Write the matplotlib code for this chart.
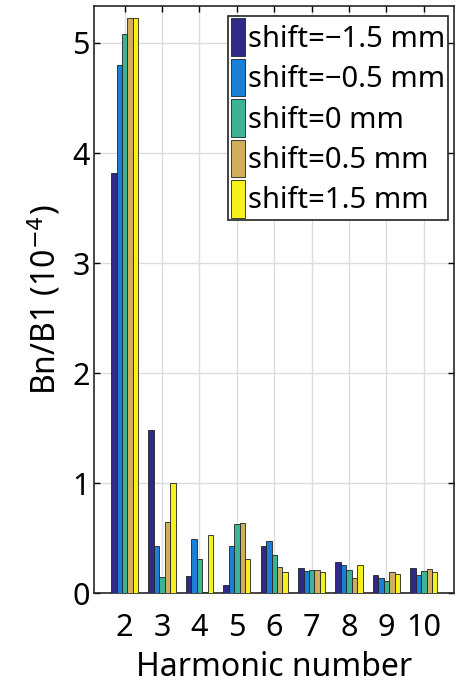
import numpy as np
import matplotlib.pyplot as plt

plt.rcParams['font.family'] = ['Noto Sans', 'DejaVu Sans']

# Harmonic order and normalised multipole content (units of 1e-4)
harmonics = [2, 3, 4, 5, 6, 7, 8, 9, 10]
labels = ['shift=\u22121.5 mm', 'shift=\u22120.5 mm', 'shift=0 mm',
          'shift=0.5 mm', 'shift=1.5 mm']
shift_m15 = [3.82, 1.48, 0.16, 0.075, 0.43, 0.23, 0.28, 0.165, 0.23]
shift_m05 = [4.80, 0.43, 0.49, 0.43, 0.47, 0.20, 0.26, 0.135, 0.165]
shift_0 = [5.08, 0.15, 0.31, 0.63, 0.345, 0.21, 0.21, 0.11, 0.20]
shift_p05 = [5.23, 0.65, 0.01, 0.64, 0.24, 0.21, 0.135, 0.195, 0.215]
shift_p15 = [5.23, 1.00, 0.53, 0.31, 0.19, 0.195, 0.26, 0.175, 0.195]
series = [shift_m15, shift_m05, shift_0, shift_p05, shift_p15]
colors = ['#2e2a86', '#1a7fd6', '#3cb394', '#d2ae5c', '#f6f01e']

fig = plt.figure(figsize=(4.66, 6.97), dpi=100)
ax = fig.add_axes([0.2017, 0.149, 0.772, 0.843])

x = np.array(harmonics, dtype=float)
w = 0.145
for i, (vals, c, lab) in enumerate(zip(series, colors, labels)):
    ax.bar(x + (i - 2) * w, vals, width=w, color=c, edgecolor='#222222',
           linewidth=0.6, label=lab, zorder=3)

ax.set_xlim(1.18, 10.8)
ax.set_ylim(0, 5.34)
ax.set_xticks(harmonics)
ax.set_yticks([0, 1, 2, 3, 4, 5])
ax.tick_params(direction='in', top=True, right=True, labelsize=22,
               length=4, width=1)
ax.tick_params(axis='x', pad=14)
ax.tick_params(axis='y', pad=3)
ax.grid(True, color='#dddddd', linewidth=1, zorder=0)
for s in ax.spines.values():
    s.set_linewidth(1.2)
    s.set_color('#262626')

ax.set_xlabel('Harmonic number', fontsize=23, labelpad=6)
ax.set_ylabel(r'Bn/B1 (10$^{-4}$)', fontsize=23, labelpad=6)

leg = ax.legend(loc='upper right', bbox_to_anchor=(0.985, 0.983),
                fontsize=21, handlelength=0.5, handleheight=1.6,
                handletextpad=0.1, labelspacing=0.1, borderpad=0.1,
                borderaxespad=0.0, fancybox=False, framealpha=1,
                edgecolor='#222222')
leg.get_frame().set_linewidth(1.2)

fig.savefig('out.png', dpi=100)
